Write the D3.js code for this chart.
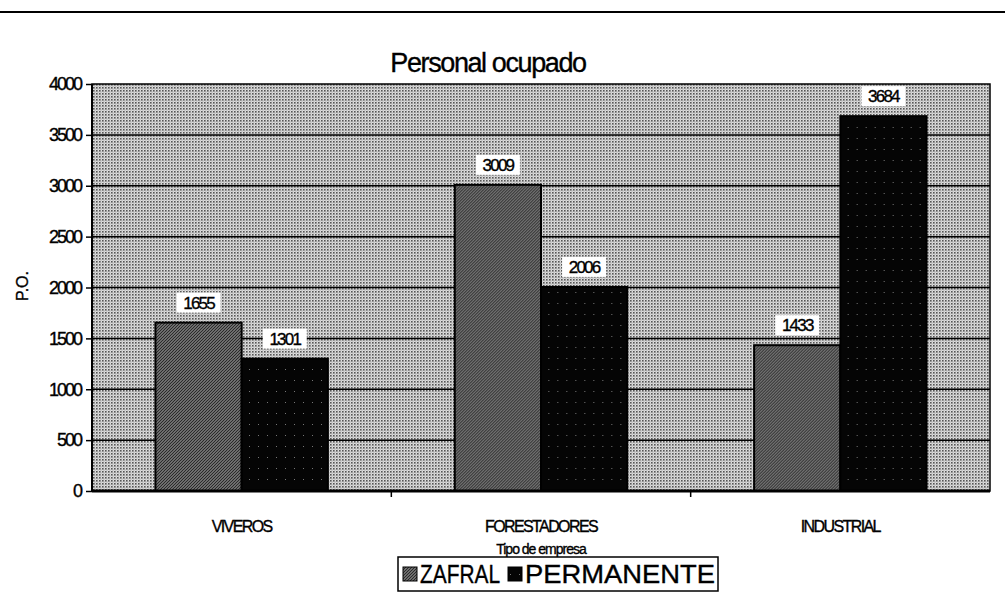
<!DOCTYPE html>
<html><head><meta charset="utf-8">
<script src="https://cdn.jsdelivr.net/npm/d3@7"></script>
<style>
body{margin:0;background:#fff;}
text{font-family:"Liberation Sans",Arial,sans-serif;fill:#000;stroke:#000;stroke-width:0.35px;}
</style></head>
<body><svg id="c" width="1005" height="616"></svg>
<script>
const categories = ["VIVEROS","FORESTADORES","INDUSTRIAL"];
const seriesNames = ["ZAFRAL","PERMANENTE"];
const zafral = [1655,3009,1433];
const permanente = [1301,2006,3684];
const yTicks = [0,500,1000,1500,2000,2500,3000,3500,4000];
const title = "Personal ocupado";
const yTitle = "P.O.";
const xTitle = "Tipo de empresa";

const svg = d3.select("#c");
const defs = svg.append("defs");
const pb = defs.append("pattern").attr("id","bg").attr("width",3).attr("height",3).attr("patternUnits","userSpaceOnUse");
pb.append("rect").attr("width",3).attr("height",3).attr("fill","#dedede");
pb.append("rect").attr("width",1.6).attr("height",1.6).attr("fill","#555");
pb.append("rect").attr("x",1.5).attr("y",1.5).attr("width",1).attr("height",1).attr("fill","#8e8e8e");
const pz = defs.append("pattern").attr("id","hz").attr("width",3).attr("height",3).attr("patternUnits","userSpaceOnUse");
pz.append("rect").attr("width",3).attr("height",3).attr("fill","#a4a4a4");
pz.append("path").attr("d","M0,3L3,0M-1,1L1,-1M2,4L4,2").attr("stroke","#2a2a2a").attr("stroke-width",1.3);
const pp = defs.append("pattern").attr("id","hp").attr("width",9).attr("height",11).attr("patternUnits","userSpaceOnUse");
pp.append("rect").attr("width",9).attr("height",11).attr("fill","#050505");
pp.append("rect").attr("x",4).attr("y",6).attr("width",1).attr("height",1).attr("fill","#777");

svg.append("line").attr("x1",0).attr("x2",1005).attr("y1",12).attr("y2",12).attr("stroke","#000").attr("stroke-width",2);

const L=92,R=990,T=84,B=491;
const x0 = d3.scaleBand().domain(categories).range([L,R]);
const bw = x0.bandwidth();
const x1 = d3.scaleBand().domain(seriesNames).range([bw*0.212,bw*0.788]);
const y = d3.scaleLinear().domain([0,4000]).range([B,T]);

svg.append("rect").attr("x",L).attr("y",T).attr("width",R-L).attr("height",B-T).attr("fill","url(#bg)").attr("stroke","#000").attr("stroke-width",1.5);

svg.append("g").selectAll("line").data(yTicks.filter(d=>d>0&&d<4000)).join("line")
 .attr("x1",L).attr("x2",R).attr("y1",d=>y(d)).attr("y2",d=>y(d)).attr("stroke","#000").attr("stroke-width",1.5);

const data = categories.map((c,i)=>({c, vals:[{s:"ZAFRAL",v:zafral[i]},{s:"PERMANENTE",v:permanente[i]}]}));
const g = svg.append("g").selectAll("g").data(data).join("g").attr("transform",d=>`translate(${x0(d.c)},0)`);
g.selectAll("rect").data(d=>d.vals).join("rect")
 .attr("x",d=>x1(d.s)).attr("width",x1.bandwidth())
 .attr("y",d=>y(d.v)).attr("height",d=>y(0)-y(d.v))
 .attr("fill",d=>d.s==="ZAFRAL"?"url(#hz)":"url(#hp)")
 .attr("stroke","#000").attr("stroke-width",2);

const lab = g.selectAll("g.lab").data(d=>d.vals).join("g").attr("class","lab")
 .attr("transform",d=>`translate(${x1(d.s)+x1.bandwidth()/2},${y(d.v)-20})`);
lab.append("rect").attr("x",-22).attr("y",-10).attr("width",44).attr("height",20).attr("fill","#fff");
lab.append("text").attr("text-anchor","middle").attr("dy","0.36em").attr("font-size",17).attr("letter-spacing",-1.8).text(d=>d.v);

const ya = svg.append("g").attr("transform",`translate(${L},0)`)
 .call(d3.axisLeft(y).tickValues(yTicks).tickSize(6).tickPadding(5).tickFormat(d3.format("d")));
ya.select(".domain").remove();
ya.selectAll("line").attr("stroke","#000").attr("stroke-width",1.5);
ya.selectAll("text").attr("font-size",18).attr("letter-spacing",-2).attr("font-family","Liberation Sans, Arial");
svg.append("line").attr("x1",L).attr("x2",L).attr("y1",T).attr("y2",B).attr("stroke","#000").attr("stroke-width",2);

const xa = svg.append("g").attr("transform",`translate(0,${B})`)
 .call(d3.axisBottom(x0).tickSize(0).tickPadding(30));
xa.select(".domain").remove();
xa.selectAll("text").attr("font-size",16).attr("letter-spacing",-1.6).attr("font-family","Liberation Sans, Arial");
svg.append("line").attr("x1",L).attr("x2",R).attr("y1",B).attr("y2",B).attr("stroke","#000").attr("stroke-width",3);
svg.append("g").selectAll("line").data(categories.slice(1)).join("line")
 .attr("x1",d=>x0(d)).attr("x2",d=>x0(d)).attr("y1",B).attr("y2",B+6).attr("stroke","#000").attr("stroke-width",1.5);

svg.append("text").attr("x",488).attr("y",72).attr("text-anchor","middle").attr("font-size",27).attr("letter-spacing",-1.4).text(title);
svg.append("text").attr("transform","translate(28,286) rotate(-90)").attr("text-anchor","middle").attr("font-size",16).text(yTitle);
svg.append("text").attr("x",x0("FORESTADORES")+bw/2).attr("y",554).attr("text-anchor","middle").attr("font-size",14).attr("letter-spacing",-1).text(xTitle);

const lg = svg.append("g").attr("transform","translate(398,557)");
lg.append("rect").attr("width",320).attr("height",34).attr("fill","#fff").attr("stroke","#000").attr("stroke-width",1.5);
const items = [{s:"ZAFRAL",f:"url(#hz)",x:5,w:80},{s:"PERMANENTE",f:"url(#hp)",x:110,w:190}];
items.forEach(it=>{
  lg.append("rect").attr("x",it.x).attr("y",10).attr("width",14).attr("height",14).attr("fill",it.f).attr("stroke","#000");
  lg.append("text").attr("x",it.x+17).attr("y",26).attr("font-size",25).attr("textLength",it.w).attr("lengthAdjust","spacingAndGlyphs").text(it.s);
});
</script></body></html>
